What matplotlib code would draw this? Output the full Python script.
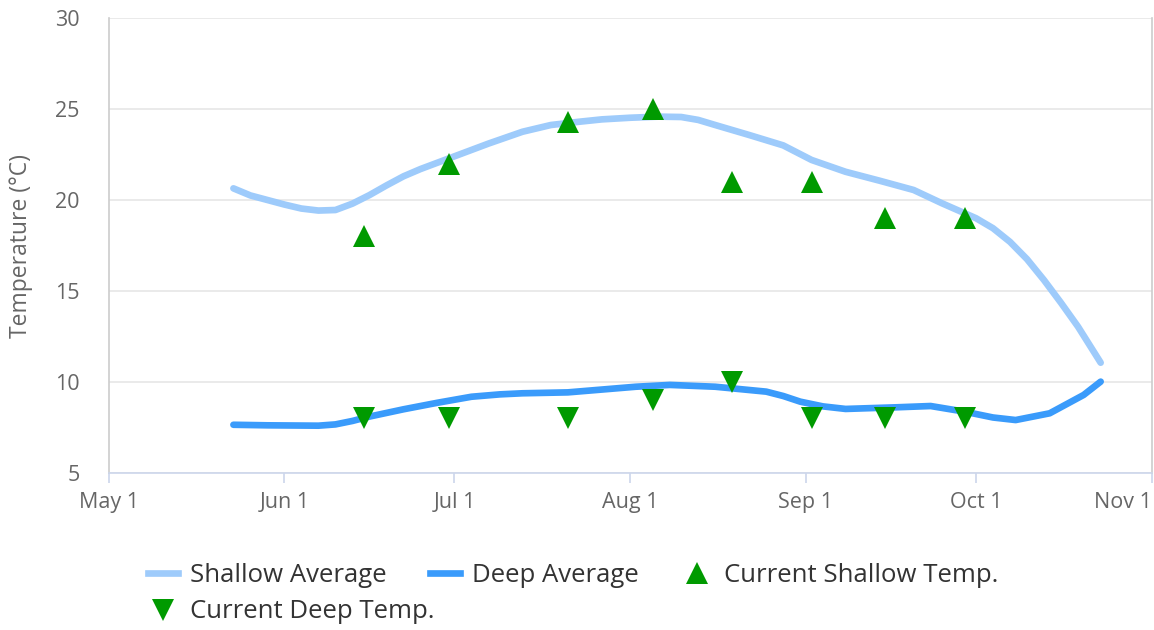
import numpy as np
import pandas as pd
import matplotlib
matplotlib.use('Agg')
from matplotlib import pyplot as plt
from matplotlib.lines import Line2D

plt.rcParams['font.family'] = ['Open Sans', 'DejaVu Sans']

# values (year is arbitrary)
shallow_dates = ['05-23', '05-26', '06-01', '06-04', '06-07', '06-10', '06-13', '06-16', '06-19',
                 '06-22', '06-25', '07-01', '07-07', '07-13', '07-18', '07-23', '07-27', '08-01',
                 '08-06', '08-10', '08-13', '08-16', '08-22', '08-28', '09-02', '09-08', '09-14',
                 '09-20', '09-25', '10-01', '10-04', '10-07', '10-10', '10-13', '10-16', '10-19',
                 '10-23']
shallow_avg = [20.64, 20.25, 19.75, 19.53, 19.42, 19.45, 19.8, 20.27, 20.8,
               21.3, 21.7, 22.4, 23.1, 23.75, 24.12, 24.3, 24.43, 24.52,
               24.58, 24.56, 24.4, 24.12, 23.57, 23.0, 22.2, 21.55, 21.06,
               20.55, 19.82, 19.0, 18.45, 17.7, 16.75, 15.6, 14.35, 13.04,
               11.06]

deep_dates = ['05-23', '05-29', '06-07', '06-10', '06-13', '06-16', '06-22', '06-28',
              '07-04', '07-09', '07-13', '07-21', '08-02', '08-08', '08-16', '08-22',
              '08-25', '08-28', '08-31', '09-04', '09-08', '09-17', '09-23', '09-29', '10-04',
              '10-08', '10-14', '10-20', '10-23']
deep_avg = [7.65, 7.62, 7.6, 7.67, 7.86, 8.1, 8.5, 8.86,
            9.19, 9.32, 9.38, 9.43, 9.74, 9.84, 9.74, 9.56,
            9.47, 9.23, 8.92, 8.66, 8.52, 8.61, 8.68, 8.37, 8.05,
            7.91, 8.28, 9.29, 10.02]

current_dates = ['06-15', '06-30', '07-21', '08-05', '08-19', '09-02', '09-15', '09-29']
current_shallow = [18, 22, 24.3, 25, 21, 21, 19, 19]
current_deep = [8, 8, 8, 9, 10, 8, 8, 8]

month_ticks = ['05-01', '06-01', '07-01', '08-01', '09-01', '10-01', '11-01']
month_labels = ['May 1', 'Jun 1', 'Jul 1', 'Aug 1', 'Sep 1', 'Oct 1', 'Nov 1']

def to_dates(md):
    return pd.to_datetime(['2019-' + d for d in md])

light_blue = '#9ecbfb'
blue = '#3a9bfb'
green = '#009a00'
text_gray = '#666666'

fig = plt.figure(figsize=(11.54, 6.30), dpi=100)
ax = fig.add_axes([108.7/1154, 1-473/630, 1043/1154, 455/630])

ax.plot(to_dates(shallow_dates), shallow_avg, color=light_blue, lw=4.8,
        solid_capstyle='round', solid_joinstyle='round', zorder=3)
ax.plot(to_dates(deep_dates), deep_avg, color=blue, lw=4.8,
        solid_capstyle='round', solid_joinstyle='round', zorder=3)
ax.plot(to_dates(current_dates), current_shallow, ls='none', marker='^',
        ms=16.5, color=green, mec=green, mew=0, zorder=4)
ax.plot(to_dates(current_dates), current_deep, ls='none', marker='v',
        ms=16.5, color=green, mec=green, mew=0, zorder=4)

ax.set_xlim(pd.Timestamp('2019-05-01'), pd.Timestamp('2019-11-01'))
ax.set_ylim(5, 30)
ax.set_yticks([5, 10, 15, 20, 25, 30])
ax.set_xticks(to_dates(month_ticks))
ax.set_xticklabels(month_labels)
ax.get_xticklabels()[-1].set_horizontalalignment('right')

ax.grid(axis='y', color='#e6e6e6', lw=1.2)
ax.set_axisbelow(True)
ax.spines['top'].set_visible(False)
ax.spines['left'].set_color('#cccccc')
ax.spines['right'].set_color('#cccccc')
ax.spines['left'].set_linewidth(1.2)
ax.spines['right'].set_linewidth(1.2)
ax.spines['bottom'].set_color('#ccd6eb')
ax.spines['bottom'].set_linewidth(1.2)

ax.tick_params(axis='y', length=0, pad=21, labelsize=15.5, labelcolor=text_gray)
ax.tick_params(axis='x', length=7.5, width=1.2, color='#ccd6eb', pad=6,
               labelsize=15.5, labelcolor=text_gray)

ax.set_ylabel('Temperature (°C)', fontsize=16.5, color=text_gray)
ax.yaxis.set_label_coords(-(108.7-33)/1043, 0.5)

# legend, laid out in rows like the original
h_shallow = Line2D([], [], color=light_blue, lw=4.8)
h_deep = Line2D([], [], color=blue, lw=4.8)
h_cs = Line2D([], [], ls='none', marker='^', ms=16.5, color=green, mew=0)
h_cd = Line2D([], [], ls='none', marker='v', ms=16.5, color=green, mew=0)

leg_kw = dict(frameon=False, fontsize=18.5, handlelength=1.17, handletextpad=0.47,
              columnspacing=1.68, borderpad=0, borderaxespad=0, labelcolor='#333333')
leg1 = fig.legend([h_shallow, h_deep, h_cs],
                  ['Shallow Average', 'Deep Average', 'Current Shallow Temp.'],
                  ncol=3, loc='center left', bbox_to_anchor=(148/1154, 1-575/630), **leg_kw)
leg2 = fig.legend([h_cd], ['Current Deep Temp.'],
                  ncol=1, loc='center left', bbox_to_anchor=(148/1154, 1-612/630), **leg_kw)

fig.savefig('out.png', dpi=100)
